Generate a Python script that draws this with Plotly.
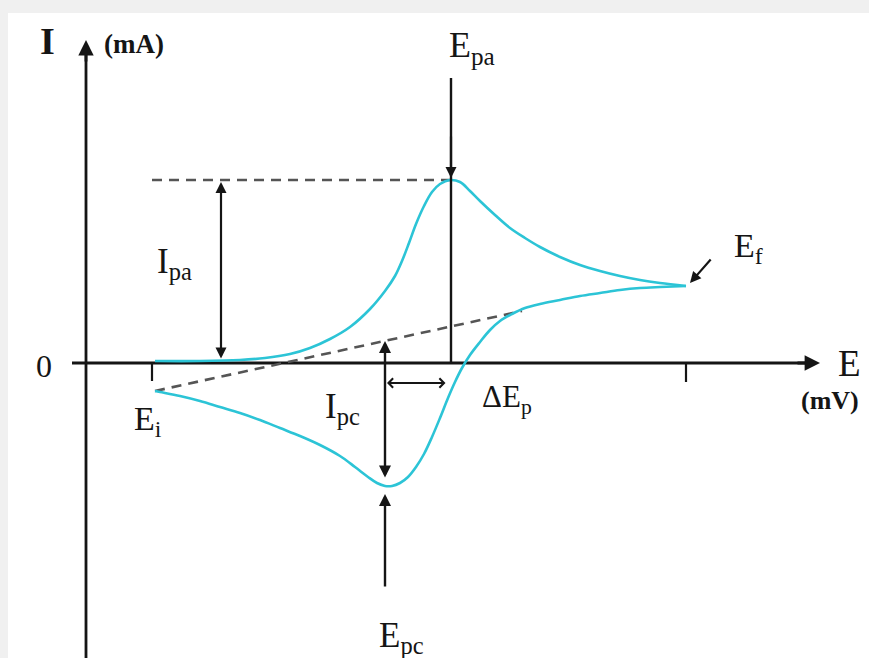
import plotly.graph_objects as go

# Cyclic voltammogram (schematic): potential E and current I in drawing units,
# origin at the intersection of the axes.
E_forward = [69, 114, 154, 179, 204, 224, 244, 264, 284, 299, 309, 316, 323, 330,
             338, 346, 354, 364, 374, 384, 394, 409, 424, 439, 454, 474, 494, 514,
             534, 554, 574, 600]
I_forward = [2, 2, 3, 5, 9, 15, 24, 36, 54, 72, 87, 102, 120, 139,
             157, 171, 179, 183, 181, 172, 162, 148, 135, 125, 116, 106, 98, 92,
             87, 83, 80, 77]

E_reverse = [600, 574, 554, 534, 514, 494, 474, 454, 439, 426, 414, 404, 394, 384,
             376, 369, 362, 354, 346, 338, 330, 322, 314, 306, 299, 291, 282, 269,
             254, 234, 214, 194, 174, 154, 134, 114, 94, 74, 69]
I_reverse = [77, 76, 75, 73, 70, 67, 63, 59, 55, 49, 42, 33, 21, 8,
             -5, -19, -35, -55, -74, -91, -104, -114, -120, -123, -123, -120, -114, -104,
             -93, -82, -73, -65, -57, -50, -44, -38, -33, -29, -28]

# Characteristic points of the voltammogram
E_i, I_i = 69, -28          # initial potential (start of the baseline)
E_f, I_f = 600, 77          # switching potential
E_pa, I_pa = 365, 183       # anodic peak
E_pc, I_pc = 299, -123      # cathodic peak
base_end = (436, 52)        # end of the extrapolated baseline

X_RANGE = [-78, 783]
Y_RANGE = [-295, 350]

CYAN = "#2cc4d6"
INK = "#151515"
DASH = "#555555"
SERIF = "Liberation Serif, Times New Roman, serif"

fig = go.Figure()
for xs, ys in ((E_forward, I_forward), (E_reverse, I_reverse)):
    fig.add_trace(go.Scatter(x=xs, y=ys, mode="lines",
                             line=dict(color=CYAN, width=2.6, shape="spline", smoothing=1.0),
                             hoverinfo="skip", showlegend=False))

shapes = []
def seg(x0, y0, x1, y1, color=INK, width=2.6, dash="solid", layer="below"):
    shapes.append(dict(type="line", xref="x", yref="y", x0=x0, y0=y0, x1=x1, y1=y1,
                       line=dict(color=color, width=width, dash=dash), layer=layer))

# axes
seg(0, Y_RANGE[0], 0, 318, width=2.8)
seg(-14, 0, 729, 0, width=2.8)
# tick marks at E_i and at the switching potential
seg(E_i - 3, 0, E_i - 3, -18, width=2.2)
seg(E_f, 0, E_f, -19, width=2.2)
# peak-current guide and extrapolated baseline
seg(E_i - 3, I_pa, E_pa, I_pa, color=DASH, width=2.6, dash="10px,7px")
seg(E_i, I_i, base_end[0], base_end[1], color=DASH, width=2.6, dash="10px,7px")
# vertical marker through the anodic peak
seg(E_pa, 285, E_pa, 0, width=2.4, layer="above")

annotations = []
def arrow(x, y, ax, ay, head=2, side="end", size=1.0, width=2.2):
    annotations.append(dict(x=x, y=y, ax=ax, ay=ay, xref="x", yref="y",
                            axref="x", ayref="y", text="", showarrow=True,
                            arrowhead=head, startarrowhead=head, arrowside=side,
                            arrowsize=size, startarrowsize=size,
                            arrowwidth=width, arrowcolor=INK, standoff=0,
                            startstandoff=0))

# axis arrowheads
arrow(0, 323, 0, 300, head=2, size=1.1, width=2.8)
arrow(734, 0, 710, 0, head=2, size=1.1, width=2.8)
# E_pa marker head
arrow(E_pa, I_pa + 2, E_pa, I_pa + 45, head=2, size=1.0, width=2.2)
# I_pa double arrow
arrow(135, I_pa - 2, 135, 3, head=2, side="end+start", size=1.0, width=2.2)
# I_pc double arrow, from baseline down to the cathodic peak
arrow(E_pc, 22, E_pc, I_pc + 7, head=2, side="end+start", size=1.0, width=2.4)
# E_pc marker from below
arrow(E_pc, I_pc - 8, E_pc, -225, head=2, size=1.0, width=2.4)
# peak separation
arrow(E_pc + 2, -20, E_pa - 4, -20, head=4, side="end+start", size=1.0, width=1.8)
# switching potential pointer
arrow(E_f + 4, I_f + 3, E_f + 26, I_f + 28, head=2, size=1.0, width=2.2)

def label(x, y, text, size=32, bold=False):
    if bold:
        text = "<b>" + text + "</b>"
    annotations.append(dict(x=x, y=y, xref="x", yref="y", text=text, showarrow=False,
                            xanchor="center", yanchor="middle",
                            font=dict(family=SERIF, size=size, color=INK)))

label(-39, 322, "I", size=38, bold=True)
label(48, 319, "(mA)", size=27, bold=True)
label(-42, -3, "0", size=32)
label(386, 316, "E<sub>pa</sub>", size=36)
label(662, 115, "E<sub>f</sub>", size=34)
label(763, 0, "E", size=37)
label(744, -37, "(mV)", size=26, bold=True)
label(62, -58, "E<sub>i</sub>", size=34)
label(256, -45, "I<sub>pc</sub>", size=35)
label(421, -36, "ΔE<sub>p</sub>", size=31)
label(88, 100, "I<sub>pa</sub>", size=35)
label(315, -274, "E<sub>pc</sub>", size=35)

fig.update_layout(
    width=869, height=658,
    margin=dict(l=8, r=0, t=13, b=0),
    paper_bgcolor="#f0f0f0",
    plot_bgcolor="white",
    shapes=shapes,
    annotations=annotations,
    xaxis=dict(range=X_RANGE, visible=False, fixedrange=True),
    yaxis=dict(range=Y_RANGE, visible=False, fixedrange=True),
    showlegend=False,
)

fig.write_html("out.html", config=dict(displayModeBar=False))
